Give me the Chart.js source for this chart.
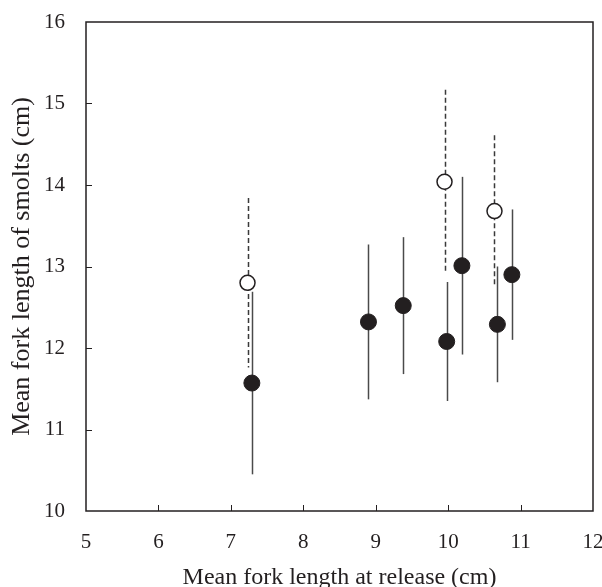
<!DOCTYPE html>
<html>
<head>
<meta charset="utf-8">
<script src="https://cdn.jsdelivr.net/npm/chart.js@4.4.1/dist/chart.umd.min.js"></script>
<style>
    html, body { margin: 0; padding: 0; background: #fff; }
    #wrap { width: 602px; height: 587px; }
</style>
</head>
<body>
<div id="wrap"><canvas id="grafico"></canvas></div>
<script>
const xTicks = [5, 6, 7, 8, 9, 10, 11, 12];
const yTicks = [10, 11, 12, 13, 14, 15, 16];

// open circles, dashed error bars
const openX = [7.23, 9.95, 10.64];
const openY = [12.80, 14.04, 13.68];
const openErr = [1.04, 1.13, 0.93];

// filled circles, solid error bars
const filledX = [7.29, 8.90, 9.38, 9.98, 10.19, 10.68, 10.88];
const filledY = [11.57, 12.32, 12.52, 12.08, 13.01, 12.29, 12.90];
const filledErr = [1.12, 0.95, 0.84, 0.73, 1.09, 0.71, 0.80];

const ink = '#231f20';
const serif = '"Liberation Serif", "DejaVu Serif", serif';

const pontos = (xs, ys) => xs.map((x, i) => ({ x, y: ys[i] }));

const errorBars = {
    id: 'errorBars',
    beforeDatasetsDraw(chart) {
        const { ctx, scales: { x, y } } = chart;
        chart.data.datasets.forEach((ds, i) => {
            if (!chart.isDatasetVisible(i)) return;
            ctx.save();
            ctx.strokeStyle = ds.errorColor;
            ctx.lineWidth = 1.5;
            ctx.setLineDash(ds.errorDash);
            ds.data.forEach((p, j) => {
                const px = Math.round(x.getPixelForValue(p.x)) + 0.5;
                ctx.beginPath();
                ctx.moveTo(px, y.getPixelForValue(p.y + ds.errors[j]));
                ctx.lineTo(px, y.getPixelForValue(p.y - ds.errors[j]));
                ctx.stroke();
            });
            ctx.restore();
        });
    },
};

const frame = {
    id: 'frame',
    afterDatasetsDraw(chart) {
        const { ctx, chartArea: a, scales: { x, y } } = chart;
        ctx.save();
        ctx.strokeStyle = ink;
        ctx.lineWidth = 1.5;
        ctx.strokeRect(a.left, a.top, a.right - a.left, a.bottom - a.top);
        ctx.lineWidth = 1;
        ctx.beginPath();
        xTicks.slice(1, -1).forEach(v => {
            const px = Math.round(x.getPixelForValue(v)) + 0.5;
            ctx.moveTo(px, a.bottom);
            ctx.lineTo(px, a.bottom - 6);
        });
        yTicks.slice(1, -1).forEach(v => {
            const py = Math.round(y.getPixelForValue(v)) + 0.5;
            ctx.moveTo(a.left, py);
            ctx.lineTo(a.left + 6, py);
        });
        ctx.stroke();
        ctx.restore();
    },
};

new Chart(document.getElementById('grafico'), {
    type: 'scatter',
    data: {
        datasets: [
            {
                data: pontos(filledX, filledY),
                errors: filledErr,
                errorDash: [],
                errorColor: '#4a4a4a',
                pointRadius: 8,
                pointBackgroundColor: ink,
                pointBorderColor: ink,
                pointBorderWidth: 1,
            },
            {
                data: pontos(openX, openY),
                errors: openErr,
                errorDash: [5, 3],
                errorColor: '#3a3a3a',
                pointRadius: 7.5,
                pointBackgroundColor: '#fff',
                pointBorderColor: ink,
                pointBorderWidth: 1.5,
            },
        ],
    },
    options: {
        responsive: true,
        maintainAspectRatio: false,
        animation: false,
        layout: { padding: { top: 22, right: 8, bottom: 0, left: 0 } },
        plugins: { legend: { display: false }, tooltip: { enabled: false } },
        scales: {
            x: {
                type: 'linear',
                min: xTicks[0],
                max: xTicks[xTicks.length - 1],
                afterBuildTicks: scale => { scale.ticks = xTicks.map(value => ({ value })); },
                afterFit: scale => {
                    scale.height = 76;
                    scale.paddingLeft = 0;
                    scale.paddingRight = 0;
                },
                grid: { display: false, drawTicks: false },
                border: { display: false },
                ticks: { color: ink, padding: 19, font: { family: serif, size: 21 } },
                title: {
                    display: true,
                    text: 'Mean fork length at release (cm)',
                    color: ink,
                    padding: { top: 0, bottom: -3 },
                    font: { family: serif, size: 24, lineHeight: 1 },
                },
            },
            y: {
                type: 'linear',
                min: yTicks[0],
                max: yTicks[yTicks.length - 1],
                afterBuildTicks: scale => { scale.ticks = yTicks.map(value => ({ value })); },
                afterFit: scale => {
                    scale.width = 86;
                    scale.paddingTop = 0;
                    scale.paddingBottom = 0;
                },
                grid: { display: false, drawTicks: false },
                border: { display: false },
                ticks: { color: ink, padding: 21, font: { family: serif, size: 21 } },
                title: {
                    display: true,
                    text: 'Mean fork length of smolts (cm)',
                    color: ink,
                    padding: { top: 9 },
                    font: { family: serif, size: 26, lineHeight: 1 },
                },
            },
        },
    },
    plugins: [errorBars, frame],
});
</script>
</body>
</html>
